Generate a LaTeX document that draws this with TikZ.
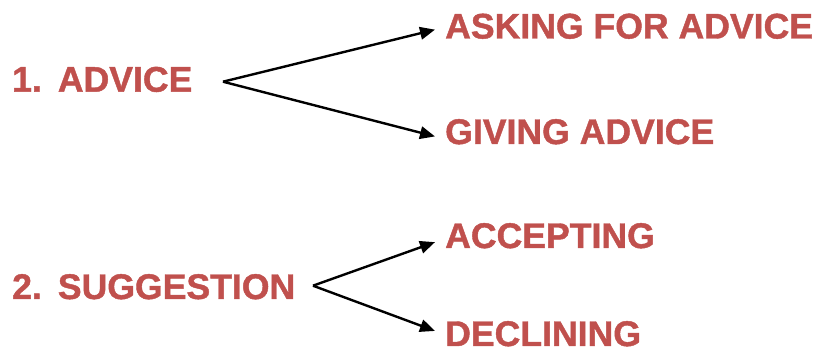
\documentclass[tikz,border=0pt]{standalone}
\usepackage{fontspec}
\setmainfont{Liberation Sans}[BoldFeatures={FakeBold=1.2}]
\usetikzlibrary{arrows.meta}
\definecolor{redtxt}{HTML}{C0504D}
\begin{document}
\begin{tikzpicture}[x=1pt,y=1pt,
  lbl/.style={anchor=base west,inner sep=0pt,text=redtxt,font=\fontsize{35.6}{40}\selectfont\bfseries},
  arr/.style={line width=2.4pt,-{Triangle[length=15pt,width=12.5pt]}}]
\useasboundingbox (0,0) rectangle (817,-352);
\node[lbl] (advice) at (12,-91.7) {1.\hspace{16pt}ADVICE};
\node[lbl] (sugg) at (12,-299) {2.\hspace{16pt}SUGGESTION};
\node[lbl] (ask) at (445,-38.5) {ASKING FOR ADVICE};
\node[lbl] (give) at (445,-144) {GIVING ADVICE};
\node[lbl] (acc) at (445,-248) {ACCEPTING};
\node[lbl] (dec) at (445,-346) {DECLINING};
\coordinate (o1) at (223,-81.7);
\coordinate (o2) at (313,-285.7);
\draw[arr] (o1) -- ([xshift=-10pt,yshift=-3.4pt]ask.west);
\draw[arr] (o1) -- ([xshift=-10pt,yshift=-4.7pt]give.west);
\draw[arr] (o2) -- ([xshift=-10pt,yshift=-6.4pt]acc.west);
\draw[arr] (o2) -- ([xshift=-10pt,yshift=2.8pt]dec.west);
\end{tikzpicture}
\end{document}
